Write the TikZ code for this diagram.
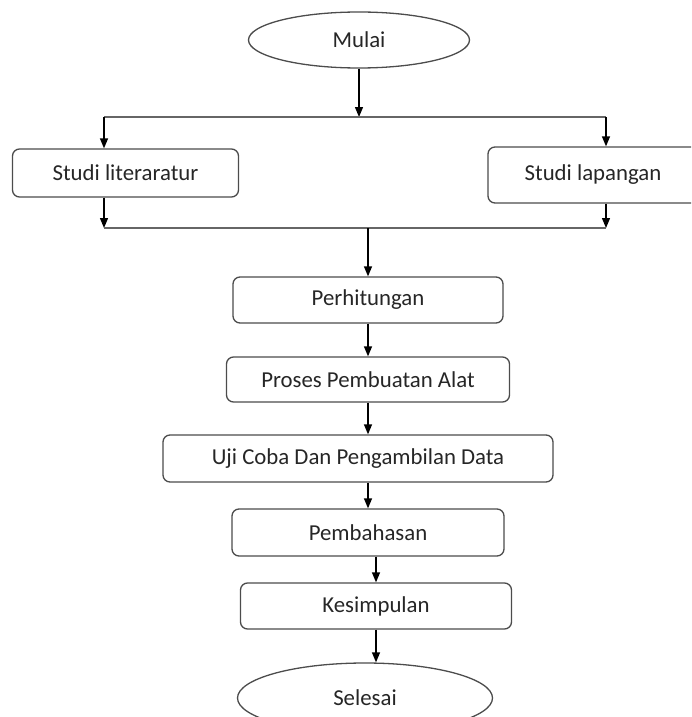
\documentclass[tikz,border=0pt]{standalone}
\usepackage{fontspec}
\setmainfont{Carlito}
\usepackage{tikz}
\usetikzlibrary{arrows.meta,positioning,shapes.geometric}
\tikzset{
  flow/.style={x=1pt, y=-1pt, line width=1.3pt, >={Triangle[length=10pt,width=8pt]},
               every node/.style={font=\fontsize{22.8}{27}\selectfont, text=black!85, inner sep=0pt}},
  proc/.style={draw=black!70, rounded corners=7pt, minimum height=47pt},
  term/.style={draw=black!70, ellipse},
  arr/.style={->, black},
  bus/.style={draw=black!60}
}

\begin{document}
\begin{tikzpicture}[flow]
\useasboundingbox (0,0) rectangle (691,717);
\clip (0,0) rectangle (691,717);
% start and the two studies
\node[term, minimum width=221pt, minimum height=56pt] (mulai) at (359,40) {Mulai};
\node[proc, minimum width=226pt, minimum height=48pt] (lit) at (125.5,173) {Studi literaratur};
\node[proc, minimum width=210pt, minimum height=56pt] (lap) at (593,175) {Studi lapangan};
\coordinate (splitL) at (104,117); \coordinate (splitR) at (606,117);
\coordinate (joinL) at (104,228);  \coordinate (joinR) at (606,228);
% main chain
\node[proc, minimum width=270pt, minimum height=46pt] (hitung) at (368,300) {Perhitungan};
\node[proc, minimum width=283pt, minimum height=45pt] (proses) at (368,379.5) {Proses Pembuatan Alat};
\node[proc, minimum width=390pt, minimum height=47pt] (uji) at (358,458.5) {Uji Coba Dan Pengambilan Data};
\node[proc, minimum width=272pt, minimum height=47pt] (bahas) at (368,532.5) {Pembahasan};
\node[proc, minimum width=271pt, minimum height=46pt] (simpul) at (376,606) {Kesimpulan};
\node[term, minimum width=255pt, minimum height=70pt] (selesai) at (365,698) {Selesai};
% connectors
\draw[arr] (mulai.south) -- (mulai.south |- splitL);
\draw[bus] (splitL) -- (splitR);
\draw[arr] (splitL) -- (splitL |- lit.north);
\draw[arr] (splitR) -- (splitR |- lap.north);
\draw[arr] (lit.south -| joinL) -- (joinL);
\draw[arr] (lap.south -| joinR) -- (joinR);
\draw[bus] (joinL) -- (joinR);
\draw[arr] (hitung.north |- joinL) -- (hitung.north);
\draw[arr] (hitung.south) -- (hitung.south |- proses.north);
\draw[arr] (proses.south) -- (proses.south |- uji.north);
\draw[arr] (uji.south -| bahas) -- (bahas.north);
\draw[arr] (bahas.south -| simpul) -- (simpul.north);
\draw[arr] (simpul.south) -- (simpul.south |- selesai.north);
\end{tikzpicture}
\end{document}
